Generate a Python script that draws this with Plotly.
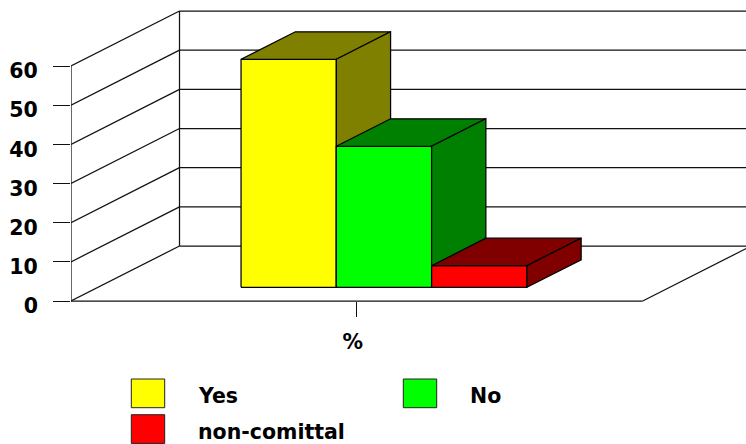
import plotly.graph_objects as go

# Survey results
categories = ["Yes", "No", "non-comittal"]
values = [58.2, 36, 5.5]
y_ticks = [0, 10, 20, 30, 40, 50, 60]
x_tick_label = ["%"]

front_colors = ["#ffff00", "#00ff00", "#ff0000"]
side_colors = ["#808000", "#008000", "#800000"]
LINE = "#111111"
LINE_W = 1.25
FONT = "DejaVu Sans, sans-serif"

W, H = 746, 444
LEFT, FLOOR_Y = 71.0, 301.0          # pixel position of the front-left corner
FLOOR_W = 571.7                      # pixel width of the floor's front edge
PX_PER_UNIT = 235.0 / 60             # pixels per value unit

# Oblique projection: depth 0 is the front plane, depth 1 the back wall
SHIFT_X = 108.5 / FLOOR_W            # x-axis units per full depth
SHIFT_Y = 55.0 / PX_PER_UNIT         # value units per full depth
BAR_W = 1 / 6
BAR_START = 0.25
DEPTH_A, DEPTH_B = 0.25, 0.75


def pt(x, v, d=0.0):
    return x + SHIFT_X * d, v + SHIFT_Y * d


def path(points):
    xs, ys = zip(*points)
    return list(xs), list(ys)


def polygon(points, fill):
    xs, ys = path(points + points[:1])
    return go.Scatter(x=xs, y=ys, mode="lines", fill="toself", fillcolor=fill,
                      line=dict(color="#000000", width=LINE_W), hoverinfo="skip",
                      showlegend=False, cliponaxis=False)


def lines(segments, color=LINE):
    xs, ys = [], []
    for a, b in segments:
        xs += [a[0], b[0], None]
        ys += [a[1], b[1], None]
    return go.Scatter(x=xs, y=ys, mode="lines", line=dict(color=color, width=LINE_W),
                      hoverinfo="skip", showlegend=False, cliponaxis=False)


fig = go.Figure()

# Walls and floor
top = y_ticks[-1]
frame = [
    (pt(0, 0), pt(0, top)),
    (pt(0, 0, 1), pt(0, top, 1)),
    (pt(0, 0), pt(1, 0)),
    (pt(1, 0), pt(1, 0, 1)),
]
for t in y_ticks:
    frame.append((pt(0, t), pt(0, t, 1)))
    frame.append((pt(0, t, 1), pt(1, t, 1)))
fig.add_trace(lines(frame))

# Bars, drawn left to right so nearer faces overlap correctly
for i, v in enumerate(values):
    x0 = BAR_START + i * BAR_W
    x1 = x0 + BAR_W
    fig.add_trace(polygon([pt(x0, 0, DEPTH_A), pt(x1, 0, DEPTH_A),
                           pt(x1, v, DEPTH_A), pt(x0, v, DEPTH_A)], front_colors[i]))
    fig.add_trace(polygon([pt(x0, v, DEPTH_A), pt(x1, v, DEPTH_A),
                           pt(x1, v, DEPTH_B), pt(x0, v, DEPTH_B)], side_colors[i]))
    fig.add_trace(polygon([pt(x1, 0, DEPTH_A), pt(x1, 0, DEPTH_B),
                           pt(x1, v, DEPTH_B), pt(x1, v, DEPTH_A)], side_colors[i]))

# Legend entries: swatch box and label, placed in page pixels
legend_slots = [(131.3, 379.0, 196, 396), (403.3, 379.0, 468, 396), (131.3, 414.7, 196, 432)]
shapes, annotations = [], []
for (sx, sy, tx, ty), name, color in zip(legend_slots, categories, front_colors):
    shapes.append(dict(type="rect", xref="paper", yref="paper", x0=sx / W, x1=(sx + 33.4) / W,
                       y0=1 - sy / H, y1=1 - (sy + 28.7) / H, fillcolor=color,
                       line=dict(color="#222222", width=1)))
    annotations.append(dict(xref="paper", yref="paper", x=tx / W, y=1 - ty / H, text=name,
                            showarrow=False, xanchor="left", yanchor="middle",
                            font=dict(family=FONT, size=20.5, color="#000000", weight="bold")))

tick_font = dict(family=FONT, size=20.5, color="#000000", weight="bold")
fig.update_layout(
    width=W, height=H, autosize=False,
    margin=dict(l=0, r=0, t=0, b=0, pad=0),
    paper_bgcolor="#ffffff", plot_bgcolor="#ffffff",
    showlegend=False, shapes=shapes, annotations=annotations,
    xaxis=dict(domain=[LEFT / W, 1], range=[0, (W - LEFT) / FLOOR_W],
               anchor="free", position=(H - FLOOR_Y) / H,
               tickmode="array", tickvals=[0.5], ticktext=x_tick_label,
               ticks="outside", ticklen=15, tickwidth=1, tickcolor=LINE,
               ticklabelshift=-4, ticklabelstandoff=7,
               tickfont=tick_font, showgrid=False, zeroline=False, showline=False),
    yaxis=dict(domain=[0, 1], range=[(FLOOR_Y - H) / PX_PER_UNIT, FLOOR_Y / PX_PER_UNIT],
               tickmode="array", tickvals=y_ticks, ticks="outside", ticklen=17,
               tickwidth=1, tickcolor=LINE, ticklabelstandoff=11, ticklabelshift=5,
               tickfont=tick_font, showgrid=False, zeroline=False, showline=False),
)

fig.write_html("out.html", config=dict(displayModeBar=False))
